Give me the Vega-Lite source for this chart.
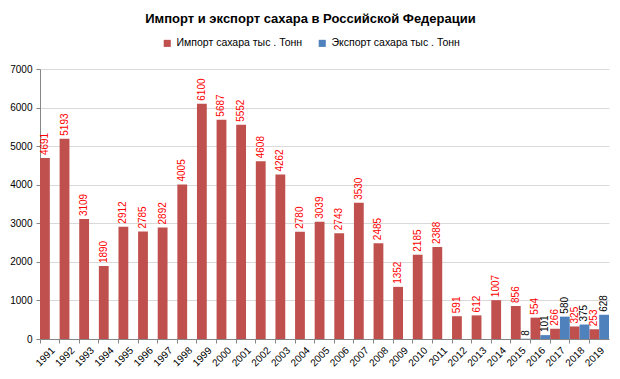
{
  "$schema": "https://vega.github.io/schema/vega-lite/v6.json",
  "width": 569,
  "height": 270,
  "autosize": "none",
  "padding": {"left": 40, "top": 69, "right": 11, "bottom": 40},
  "background": "white",
  "config": {
    "font": "Liberation Sans",
    "view": {"stroke": null}
  },
  "title": {
    "text": "Импорт и экспорт сахара в Российской Федерации",
    "fontSize": 13,
    "fontWeight": "bold",
    "color": "#000000",
    "anchor": "middle",
    "offset": 12,
    "dx": -14
  },
  "data": {
    "values": [
      {"year": "1991", "series": "Импорт сахара тыс . Тонн", "value": 4691},
      {"year": "1992", "series": "Импорт сахара тыс . Тонн", "value": 5193},
      {"year": "1993", "series": "Импорт сахара тыс . Тонн", "value": 3109},
      {"year": "1994", "series": "Импорт сахара тыс . Тонн", "value": 1890},
      {"year": "1995", "series": "Импорт сахара тыс . Тонн", "value": 2912},
      {"year": "1996", "series": "Импорт сахара тыс . Тонн", "value": 2785},
      {"year": "1997", "series": "Импорт сахара тыс . Тонн", "value": 2892},
      {"year": "1998", "series": "Импорт сахара тыс . Тонн", "value": 4005},
      {"year": "1999", "series": "Импорт сахара тыс . Тонн", "value": 6100},
      {"year": "2000", "series": "Импорт сахара тыс . Тонн", "value": 5687},
      {"year": "2001", "series": "Импорт сахара тыс . Тонн", "value": 5552},
      {"year": "2002", "series": "Импорт сахара тыс . Тонн", "value": 4608},
      {"year": "2003", "series": "Импорт сахара тыс . Тонн", "value": 4262},
      {"year": "2004", "series": "Импорт сахара тыс . Тонн", "value": 2780},
      {"year": "2005", "series": "Импорт сахара тыс . Тонн", "value": 3039},
      {"year": "2006", "series": "Импорт сахара тыс . Тонн", "value": 2743},
      {"year": "2007", "series": "Импорт сахара тыс . Тонн", "value": 3530},
      {"year": "2008", "series": "Импорт сахара тыс . Тонн", "value": 2485},
      {"year": "2009", "series": "Импорт сахара тыс . Тонн", "value": 1352},
      {"year": "2010", "series": "Импорт сахара тыс . Тонн", "value": 2185},
      {"year": "2011", "series": "Импорт сахара тыс . Тонн", "value": 2388},
      {"year": "2012", "series": "Импорт сахара тыс . Тонн", "value": 591},
      {"year": "2013", "series": "Импорт сахара тыс . Тонн", "value": 612},
      {"year": "2014", "series": "Импорт сахара тыс . Тонн", "value": 1007},
      {"year": "2015", "series": "Импорт сахара тыс . Тонн", "value": 856},
      {"year": "2016", "series": "Импорт сахара тыс . Тонн", "value": 554},
      {"year": "2017", "series": "Импорт сахара тыс . Тонн", "value": 266},
      {"year": "2018", "series": "Импорт сахара тыс . Тонн", "value": 325},
      {"year": "2019", "series": "Импорт сахара тыс . Тонн", "value": 253},
      {"year": "2015", "series": "Экспорт сахара тыс . Тонн", "value": 8},
      {"year": "2016", "series": "Экспорт сахара тыс . Тонн", "value": 101},
      {"year": "2017", "series": "Экспорт сахара тыс . Тонн", "value": 580},
      {"year": "2018", "series": "Экспорт сахара тыс . Тонн", "value": 375},
      {"year": "2019", "series": "Экспорт сахара тыс . Тонн", "value": 628}
    ]
  },
  "encoding": {
    "x": {
      "field": "year",
      "type": "nominal",
      "sort": null,
      "scale": {"paddingInner": 0, "paddingOuter": 0},
      "axis": {
        "title": null,
        "labelAngle": -45,
        "labelAlign": "right",
        "labelBaseline": "top",
        "labelFontSize": 10,
        "labelColor": "#000000",
        "labelPadding": 2,
        "domainColor": "#868686",
        "tickColor": "#868686",
        "tickSize": 4,
        "bandPosition": 0,
        "grid": false
      }
    },
    "xOffset": {
      "field": "series",
      "type": "nominal",
      "scale": {"domain": ["Импорт сахара тыс . Тонн", "Экспорт сахара тыс . Тонн"], "paddingInner": 0, "paddingOuter": 0}
    },
    "y": {
      "field": "value",
      "type": "quantitative",
      "scale": {"domain": [0, 7000], "nice": false},
      "axis": {
        "title": null,
        "values": [0, 1000, 2000, 3000, 4000, 5000, 6000, 7000],
        "format": "d",
        "labelFontSize": 10,
        "labelColor": "#000000",
        "labelPadding": 4,
        "domainColor": "#868686",
        "tickColor": "#868686",
        "tickSize": 4,
        "gridColor": "#D9D9D9",
        "grid": true
      }
    }
  },
  "layer": [
    {
      "mark": {"type": "bar"},
      "encoding": {
        "color": {
          "field": "series",
          "type": "nominal",
          "scale": {"domain": ["Импорт сахара тыс . Тонн", "Экспорт сахара тыс . Тонн"], "range": ["#C0504D", "#4F81BD"]},
          "legend": {
            "title": null,
            "orient": "none",
            "direction": "horizontal",
            "legendX": 122,
            "legendY": -31,
            "symbolType": "square",
            "symbolSize": 50,
            "symbolStrokeWidth": 0,
            "labelFontSize": 10.5,
            "labelColor": "#000000",
            "columnPadding": 14
          }
        }
      }
    },
    {
      "mark": {"type": "text", "angle": 270, "align": "left", "baseline": "middle", "dx": 3, "fontSize": 10},
      "encoding": {
        "text": {"field": "value", "type": "quantitative", "format": "d"},
        "fill": {
          "field": "series",
          "type": "nominal",
          "scale": {"domain": ["Импорт сахара тыс . Тонн", "Экспорт сахара тыс . Тонн"], "range": ["#FF0000", "#000000"]},
          "legend": null
        }
      }
    }
  ]
}
